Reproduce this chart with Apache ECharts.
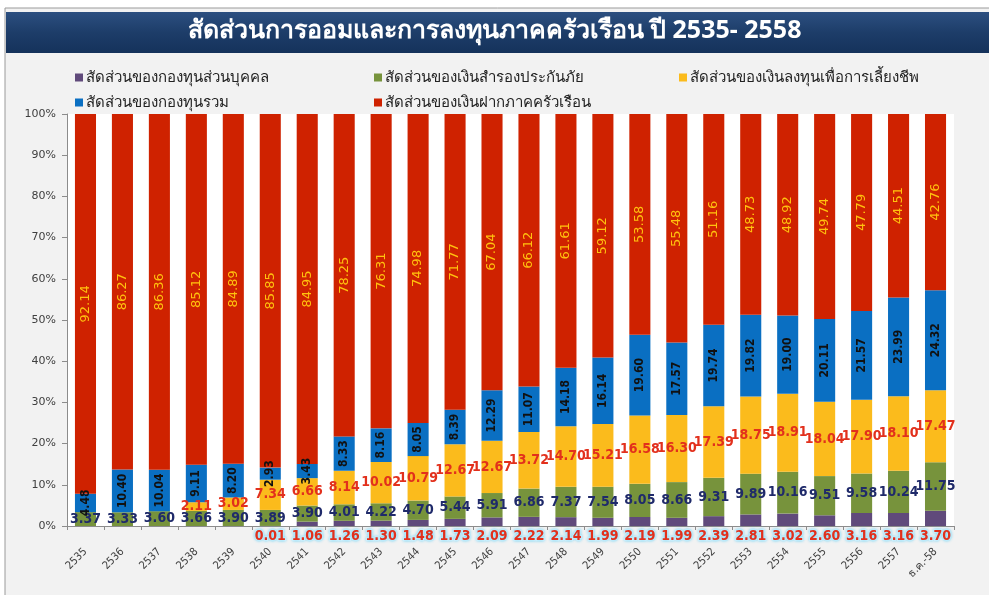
<!DOCTYPE html>
<html>
<head>
<meta charset="utf-8">
<script src="https://cdn.jsdelivr.net/npm/echarts@6/dist/echarts.min.js"></script>
<style>
  html, body { margin: 0; padding: 0; background: #ffffff; }
  #container { width: 989px; height: 595px; }
</style>
</head>
<body>
<div id="container"></div>
<script>
var years = ['2535', '2536', '2537', '2538', '2539', '2540', '2541', '2542', '2543', '2544', '2545', '2546',
    '2547', '2548', '2549', '2550', '2551', '2552', '2553', '2554', '2555', '2556', '2557', 'ธ.ค.-58'];

var names = ['สัดส่วนของกองทุนส่วนบุคคล', 'สัดส่วนของเงินสำรองประกันภัย', 'สัดส่วนของเงินลงทุนเพื่อการเลี้ยงชีพ',
    'สัดส่วนของกองทุนรวม', 'สัดส่วนของเงินฝากภาคครัวเรือน'];

// private fund
var privateFund = [0, 0, 0, 0, 0, 0.01, 1.06, 1.26, 1.30, 1.48, 1.73, 2.09, 2.22, 2.14, 1.99, 2.19, 1.99, 2.39,
    2.81, 3.02, 2.60, 3.16, 3.16, 3.70];
// insurance reserve
var insurance = [3.37, 3.33, 3.60, 3.66, 3.90, 3.89, 3.90, 4.01, 4.22, 4.70, 5.44, 5.91, 6.86, 7.37, 7.54, 8.05,
    8.66, 9.31, 9.89, 10.16, 9.51, 9.58, 10.24, 11.75];
// provident fund
var provident = [0, 0, 0, 2.11, 3.02, 7.34, 6.66, 8.14, 10.02, 10.79, 12.67, 12.67, 13.72, 14.70, 15.21, 16.58,
    16.30, 17.39, 18.75, 18.91, 18.04, 17.90, 18.10, 17.47];
// mutual fund
var mutualFund = [4.48, 10.40, 10.04, 9.11, 8.20, 2.93, 3.43, 8.33, 8.16, 8.05, 8.39, 12.29, 11.07, 14.18, 16.14,
    19.60, 17.57, 19.74, 19.82, 19.00, 20.11, 21.57, 23.99, 24.32];
// household deposits
var deposit = [92.14, 86.27, 86.36, 85.12, 84.89, 85.85, 84.95, 78.25, 76.31, 74.98, 71.77, 67.04, 66.12, 61.61,
    59.12, 53.58, 55.48, 51.16, 48.73, 48.92, 49.74, 47.79, 44.51, 42.76];

var yTicks = [0, 100, 10];

var numFont = '"DejaVu Sans Condensed", "DejaVu Sans", sans-serif';
var thaiFont = 'Tahoma, "Noto Sans", "DejaVu Sans", sans-serif';

function fmt(p) {
    return p.value ? p.value.toFixed(2) : '';
}

var dom = document.getElementById('container');
var myChart = echarts.init(dom);

function legendAt(name, left, top) {
    return {
        data: [name],
        left: left,
        top: top,
        icon: 'rect',
        itemWidth: 8,
        itemHeight: 8,
        itemGap: 5,
        padding: 0,
        selectedMode: false,
        textStyle: { fontFamily: thaiFont, fontSize: 15, color: '#222222', padding: [0, 0, 0, -2] }
    };
}

var option = {
    backgroundColor: '#ffffff',
    graphic: [
        {
            type: 'rect',
            shape: { x: 5, y: 8, width: 990, height: 590 },
            style: { fill: '#f2f2f2', stroke: '#9a9a9a', lineWidth: 1 },
            z: -10
        },
        {
            type: 'rect',
            shape: { x: 6, y: 12, width: 990, height: 41 },
            style: {
                fill: new echarts.graphic.LinearGradient(0, 0, 0, 1, [
                    { offset: 0, color: '#2c4f80' },
                    { offset: 0.5, color: '#1d3d69' },
                    { offset: 1, color: '#15325b' }
                ])
            },
            z: -9
        },
        {
            type: 'text',
            left: 'center',
            top: 18,
            style: {
                text: 'สัดส่วนการออมและการลงทุนภาคครัวเรือน ปี 2535- 2558',
                fill: '#ffffff',
                font: 'bold 25px ' + thaiFont
            }
        }
    ],
    legend: [
        legendAt(names[0], 75, 70),
        legendAt(names[1], 374, 70),
        legendAt(names[2], 679, 70),
        legendAt(names[3], 75, 95),
        legendAt(names[4], 374, 95)
    ],
    grid: {
        left: 67,
        right: 35,
        top: 114,
        bottom: 69,
        show: true,
        backgroundColor: '#ffffff',
        borderWidth: 0
    },
    xAxis: {
        type: 'category',
        data: years,
        axisLine: { lineStyle: { color: '#8c8c8c' } },
        axisTick: { show: true, length: 4, lineStyle: { color: '#8c8c8c' } },
        axisLabel: {
            rotate: 45,
            fontFamily: numFont,
            fontSize: 11,
            color: '#404040',
            margin: 24
        }
    },
    yAxis: {
        type: 'value',
        min: yTicks[0],
        max: yTicks[1],
        interval: yTicks[2],
        axisLine: { show: true, lineStyle: { color: '#8c8c8c' } },
        axisTick: { show: true, length: 5, lineStyle: { color: '#8c8c8c' } },
        splitLine: { show: false },
        axisLabel: {
            formatter: '{value}%',
            fontFamily: '"DejaVu Sans", sans-serif',
            fontSize: 11,
            color: '#404040',
            margin: 11
        }
    },
    series: [
        {
            name: names[0],
            type: 'bar',
            stack: 'all',
            barWidth: '57%',
            data: privateFund,
            itemStyle: { color: '#604a7b' },
            label: {
                show: true,
                position: 'bottom',
                distance: 3,
                formatter: fmt,
                fontFamily: numFont,
                fontWeight: 'bold',
                fontSize: 14,
                color: '#e2301c',
                textBorderColor: '#d6f3ff',
                textBorderWidth: 2,
                textShadowColor: '#7fd8f5',
                textShadowBlur: 3
            }
        },
        {
            name: names[1],
            type: 'bar',
            stack: 'all',
            data: insurance,
            itemStyle: { color: '#77933c' },
            label: {
                show: true,
                position: 'inside',
                formatter: fmt,
                fontFamily: numFont,
                fontWeight: 'bold',
                fontSize: 14,
                color: '#1f2a6a'
            }
        },
        {
            name: names[2],
            type: 'bar',
            stack: 'all',
            data: provident,
            itemStyle: { color: '#fbbb1c' },
            label: {
                show: true,
                position: 'inside',
                formatter: fmt,
                fontFamily: numFont,
                fontWeight: 'bold',
                fontSize: 14,
                color: '#e2301c'
            }
        },
        {
            name: names[3],
            type: 'bar',
            stack: 'all',
            data: mutualFund,
            itemStyle: { color: '#0a6fc2' },
            label: {
                show: true,
                position: 'inside',
                rotate: 90,
                formatter: fmt,
                fontFamily: numFont,
                fontWeight: 'bold',
                fontSize: 12,
                color: '#111111'
            }
        },
        {
            name: names[4],
            type: 'bar',
            stack: 'all',
            data: deposit,
            itemStyle: { color: '#cf2200' },
            label: {
                show: true,
                position: 'inside',
                rotate: 90,
                formatter: fmt,
                fontFamily: '"DejaVu Sans", sans-serif',
                fontSize: 13,
                color: '#ffc20e'
            }
        }
    ]
};

myChart.setOption(option, true);
</script>
</body>
</html>
